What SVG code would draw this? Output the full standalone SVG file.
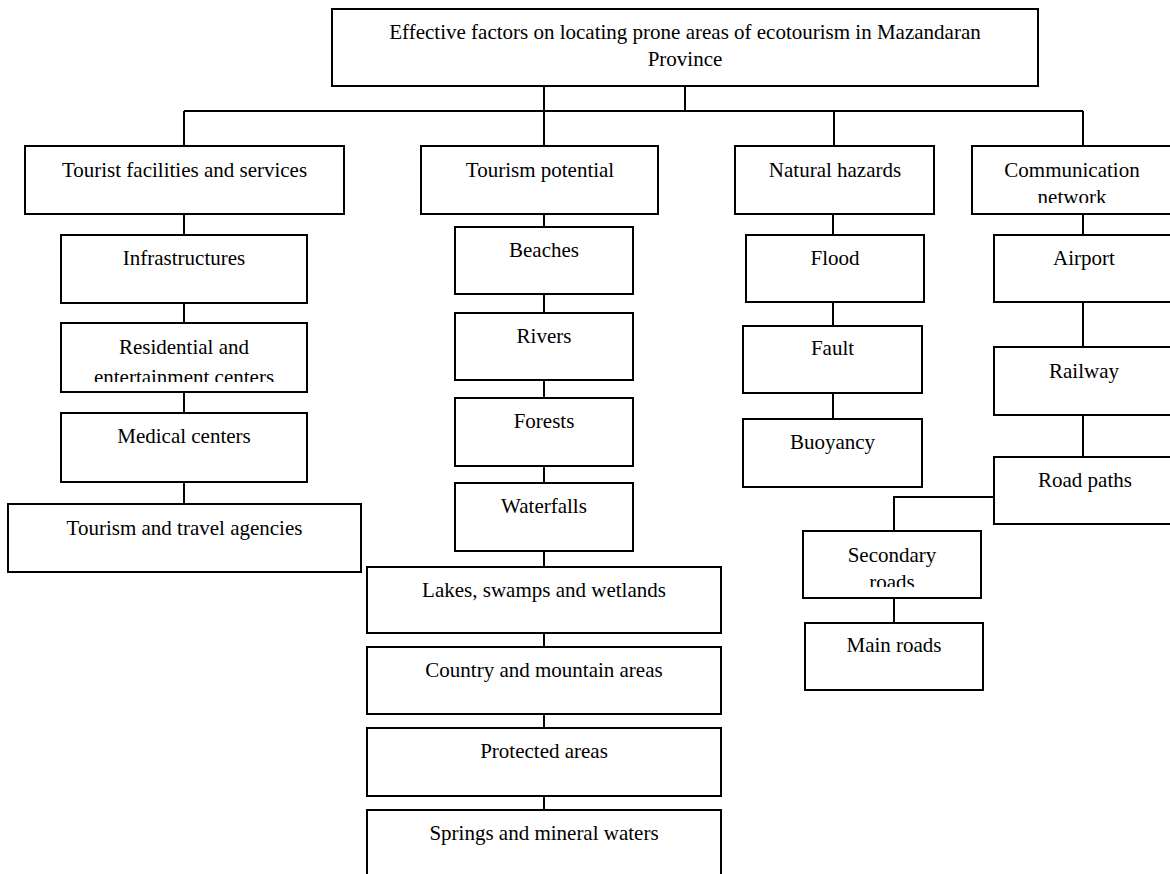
<svg xmlns="http://www.w3.org/2000/svg" width="1170" height="874" viewBox="0 0 1170 874">
<style>
.box{fill:#fff;stroke:#000;stroke-width:2}
.lbl{font-family:"Liberation Serif","Times New Roman",serif;font-size:21px;fill:#000;text-anchor:middle}
.con{fill:none;stroke:#000;stroke-width:2}
</style>
<defs>
<clipPath id="clipRes"><rect x="60" y="320" width="250" height="62"/></clipPath>
<clipPath id="clipCom"><rect x="970" y="140" width="210" height="63"/></clipPath>
<clipPath id="clipSec"><rect x="800" y="528" width="185" height="59"/></clipPath>
</defs>
<rect width="1170" height="874" fill="#fff"/>
<g id="connectors">
<path class="con" d="M544 86V146M685 86V111M184 111H1083M184 111V146M834 111V146M1083 111V146"/>
<path class="con" d="M184 214V235M184 303V323M184 392V413M184 482V504"/>
<path class="con" d="M544 214V227M544 294V313M544 380V398M544 466V483M544 551V567M544 633V647M544 714V728M544 796V810"/>
<path class="con" d="M833 214V235M833 302V326M833 393V419"/>
<path class="con" d="M1083 214V235M1083 302V347M1083 415V457"/>
<path class="con" d="M994 497H894V531M894 598V623"/>
</g>
<g id="root"><rect class="box" x="332" y="9" width="706" height="77"/>
<text class="lbl" x="685" y="39">Effective factors on locating prone areas of ecotourism in Mazandaran</text>
<text class="lbl" x="685" y="66">Province</text></g>
<g id="tourist-facilities"><rect class="box" x="25" y="146" width="319" height="68"/><text class="lbl" x="184.5" y="177">Tourist facilities and services</text></g>
<g id="infrastructures"><rect class="box" x="61" y="235" width="246" height="68"/><text class="lbl" x="184" y="265">Infrastructures</text></g>
<g id="residential"><rect class="box" x="61" y="323" width="246" height="69"/><text class="lbl" x="184" y="354">Residential and</text><text class="lbl" x="184" y="384" clip-path="url(#clipRes)">entertainment centers</text></g>
<g id="medical"><rect class="box" x="61" y="413" width="246" height="69"/><text class="lbl" x="184" y="443">Medical centers</text></g>
<g id="agencies"><rect class="box" x="8" y="504" width="353" height="68"/><text class="lbl" x="184.5" y="535">Tourism and travel agencies</text></g>
<g id="tourism-potential"><rect class="box" x="421" y="146" width="237" height="68"/><text class="lbl" x="540" y="177">Tourism potential</text></g>
<g id="beaches"><rect class="box" x="455" y="227" width="178" height="67"/><text class="lbl" x="544" y="257">Beaches</text></g>
<g id="rivers"><rect class="box" x="455" y="313" width="178" height="67"/><text class="lbl" x="544" y="343">Rivers</text></g>
<g id="forests"><rect class="box" x="455" y="398" width="178" height="68"/><text class="lbl" x="544" y="428">Forests</text></g>
<g id="waterfalls"><rect class="box" x="455" y="483" width="178" height="68"/><text class="lbl" x="544" y="513">Waterfalls</text></g>
<g id="lakes"><rect class="box" x="367" y="567" width="354" height="66"/><text class="lbl" x="544" y="597">Lakes, swamps and wetlands</text></g>
<g id="country"><rect class="box" x="367" y="647" width="354" height="67"/><text class="lbl" x="544" y="677">Country and mountain areas</text></g>
<g id="protected"><rect class="box" x="367" y="728" width="354" height="68"/><text class="lbl" x="544" y="758">Protected areas</text></g>
<g id="springs"><rect class="box" x="367" y="810" width="354" height="80"/><text class="lbl" x="544" y="840">Springs and mineral waters</text></g>
<g id="natural-hazards"><rect class="box" x="735" y="146" width="199" height="68"/><text class="lbl" x="835" y="177">Natural hazards</text></g>
<g id="flood"><rect class="box" x="746" y="235" width="178" height="67"/><text class="lbl" x="835" y="265">Flood</text></g>
<g id="fault"><rect class="box" x="743" y="326" width="179" height="67"/><text class="lbl" x="832.5" y="355">Fault</text></g>
<g id="buoyancy"><rect class="box" x="743" y="419" width="179" height="68"/><text class="lbl" x="832.5" y="449">Buoyancy</text></g>
<g id="communication"><rect class="box" x="972" y="146" width="210" height="68"/><text class="lbl" x="1072" y="177">Communication</text><text class="lbl" x="1072" y="204" clip-path="url(#clipCom)">network</text></g>
<g id="airport"><rect class="box" x="994" y="235" width="188" height="67"/><text class="lbl" x="1084" y="265">Airport</text></g>
<g id="railway"><rect class="box" x="994" y="347" width="188" height="68"/><text class="lbl" x="1084" y="378">Railway</text></g>
<g id="road-paths"><rect class="box" x="994" y="457" width="188" height="67"/><text class="lbl" x="1085" y="487">Road paths</text></g>
<g id="secondary-roads"><rect class="box" x="803" y="531" width="178" height="67"/><text class="lbl" x="892" y="562">Secondary</text><text class="lbl" x="892" y="589" clip-path="url(#clipSec)">roads</text></g>
<g id="main-roads"><rect class="box" x="805" y="623" width="178" height="67"/><text class="lbl" x="894" y="652">Main roads</text></g>
</svg>
